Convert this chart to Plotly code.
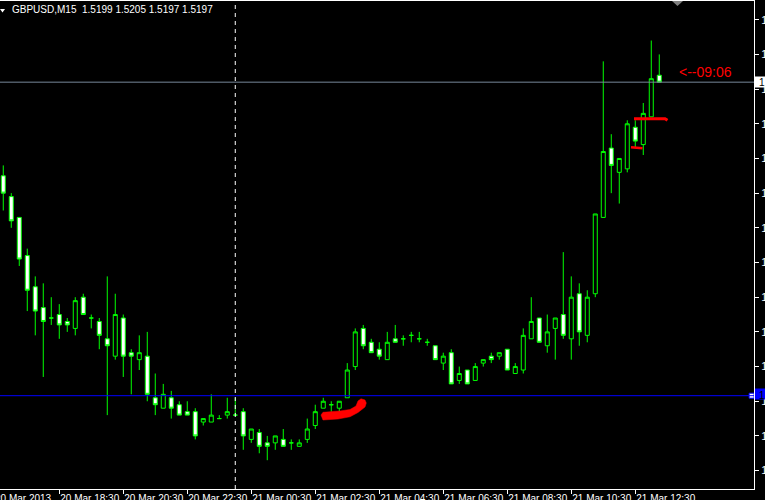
import plotly.graph_objects as go

SYMBOL = "GBPUSD,M15"

# 15-minute bars, 20 Mar 2013 16:45 -> 21 Mar 2013 13:15
OPEN = [1.5170, 1.5164, 1.5158, 1.5147, 1.5138, 1.5132, 1.5129, 1.5130, 1.5128, 1.5126,
        1.5135, 1.5129, 1.5128, 1.5123, 1.5118, 1.5129, 1.5119, 1.5117, 1.5118, 1.5106,
        1.5103, 1.5106, 1.5104, 1.5102, 1.5102, 1.5099, 1.5099, 1.5100, 1.5101, 1.5101,
        1.5102, 1.5094, 1.5096, 1.5093, 1.5093, 1.5094, 1.5093, 1.5092, 1.5094, 1.5098,
        1.5103, 1.5104, 1.5103, 1.5106, 1.5115, 1.5126, 1.5122, 1.5120, 1.5117, 1.5123,
        1.5123, 1.5124, 1.5123, 1.5122, 1.5121, 1.5116, 1.5119, 1.5111, 1.5114, 1.5111,
        1.5116, 1.5118, 1.5118, 1.5120, 1.5113, 1.5114, 1.5123, 1.5129, 1.5121, 1.5126,
        1.5130, 1.5123, 1.5136, 1.5124, 1.5136, 1.5158, 1.5178, 1.5171, 1.5172, 1.5184,
        1.5179, 1.5187, 1.5199]
HIGH = [1.5173, 1.5165, 1.5158, 1.5149, 1.5141, 1.5139, 1.5135, 1.5133, 1.5129, 1.5135,
        1.5136, 1.5130, 1.5129, 1.5141, 1.5136, 1.5130, 1.5120, 1.5124, 1.5125, 1.5113,
        1.5110, 1.5108, 1.5105, 1.5105, 1.5103, 1.5100, 1.5107, 1.5101, 1.5106, 1.5106,
        1.5103, 1.5097, 1.5097, 1.5095, 1.5095, 1.5097, 1.5094, 1.5094, 1.5100, 1.5104,
        1.5106, 1.5105, 1.5105, 1.5116, 1.5126, 1.5127, 1.5123, 1.5122, 1.5125, 1.5127,
        1.5124, 1.5125, 1.5125, 1.5123, 1.5121, 1.5119, 1.5120, 1.5115, 1.5114, 1.5116,
        1.5117, 1.5119, 1.5119, 1.5120, 1.5116, 1.5126, 1.5135, 1.5129, 1.5130, 1.5129,
        1.5148, 1.5141, 1.5139, 1.5137, 1.5159, 1.5203, 1.5182, 1.5175, 1.5186, 1.5186,
        1.5191, 1.5209, 1.5205]
LOW = [1.5160, 1.5155, 1.5144, 1.5131, 1.5124, 1.5112, 1.5127, 1.5123, 1.5125, 1.5124,
       1.5130, 1.5126, 1.5120, 1.5101, 1.5117, 1.5112, 1.5107, 1.5114, 1.5105, 1.5101,
       1.5103, 1.5100, 1.5101, 1.5101, 1.5094, 1.5098, 1.5099, 1.5100, 1.5100, 1.5101,
       1.5091, 1.5093, 1.5090, 1.5088, 1.5091, 1.5092, 1.5091, 1.5092, 1.5093, 1.5097,
       1.5103, 1.5102, 1.5102, 1.5106, 1.5114, 1.5120, 1.5119, 1.5117, 1.5117, 1.5122,
       1.5121, 1.5122, 1.5122, 1.5121, 1.5117, 1.5114, 1.5110, 1.5110, 1.5110, 1.5111,
       1.5115, 1.5116, 1.5117, 1.5114, 1.5113, 1.5113, 1.5123, 1.5122, 1.5119, 1.5117,
       1.5123, 1.5117, 1.5121, 1.5122, 1.5135, 1.5158, 1.5165, 1.5162, 1.5171, 1.5178,
       1.5176, 1.5187, 1.5197]
CLOSE = [1.5165, 1.5157, 1.5146, 1.5137, 1.5131, 1.5128, 1.5129, 1.5127, 1.5127, 1.5134,
         1.5130, 1.5129, 1.5124, 1.5121, 1.5130, 1.5118, 1.5118, 1.5119, 1.5107, 1.5104,
         1.5107, 1.5103, 1.5101, 1.5101, 1.5095, 1.5100, 1.5101, 1.5100, 1.5102, 1.5101,
         1.5095, 1.5097, 1.5092, 1.5092, 1.5095, 1.5092, 1.5093, 1.5093, 1.5097, 1.5102,
         1.5105, 1.5104, 1.5105, 1.5114, 1.5125, 1.5121, 1.5119, 1.5118, 1.5122, 1.5122,
         1.5123, 1.5124, 1.5123, 1.5122, 1.5117, 1.5118, 1.5110, 1.5113, 1.5110, 1.5115,
         1.5117, 1.5117, 1.5119, 1.5114, 1.5115, 1.5124, 1.5128, 1.5122, 1.5125, 1.5129,
         1.5124, 1.5135, 1.5125, 1.5135, 1.5159, 1.5177, 1.5173, 1.5175, 1.5185, 1.5180,
         1.5188, 1.5198, 1.5197]

TICK_BARS = [7, 15, 23, 31, 39, 47, 55, 63, 71, 79]
TICK_TEXT = ["20 Mar 18:30", "20 Mar 20:30", "20 Mar 22:30", "21 Mar 00:30", "21 Mar 02:30",
             "21 Mar 04:30", "21 Mar 06:30", "21 Mar 08:30", "21 Mar 10:30", "21 Mar 12:30"]
FIRST_LABEL = "20 Mar 2013"

PRICE_TICKS = [1.5085, 1.5095, 1.5105, 1.5115, 1.5125, 1.5135, 1.5145,
               1.5155, 1.5165, 1.5175, 1.5185, 1.5195, 1.5205, 1.5215]

DAY_BREAK_BAR = 29          # 21 Mar 00:00
HLINE_LEVEL = 1.51066       # user horizontal line
TIMER_TEXT = "<--09:06"

# view window (chart shifted to the left)
X_RANGE = [-0.41, 93.84]
Y_RANGE = [1.50797, 1.52204]

FONT = "Liberation Sans, Arial, sans-serif"
GREEN = "#00ff00"

# plot area in pixels
PLOT_W, PLOT_H, TOP = 754, 488, 1


def pxx(x):
    return x / PLOT_W


def pxy(y):
    return (TOP + PLOT_H - y) / PLOT_H


def path(points, close=True):
    s = "M " + " L ".join(f"{pxx(x):.5f},{pxy(y):.5f}" for x, y in points)
    return s + (" Z" if close else "")


bars = list(range(len(OPEN)))

fig = go.Figure()
fig.add_trace(go.Candlestick(
    x=bars, open=OPEN, high=HIGH, low=LOW, close=CLOSE,
    increasing=dict(line=dict(color=GREEN, width=1), fillcolor="#000000"),
    decreasing=dict(line=dict(color=GREEN, width=1), fillcolor="#ffffff"),
    whiskerwidth=0, hoverinfo="skip",
))

bid = CLOSE[-1]
shapes = [
    # period separator
    dict(type="line", xref="x", yref="paper", x0=DAY_BREAK_BAR, x1=DAY_BREAK_BAR, y0=0, y1=1,
         line=dict(color="white", width=1, dash="4px,4px")),
    # bid line
    dict(type="line", xref="paper", yref="y", x0=0, x1=1, y0=bid, y1=bid,
         line=dict(color="#778899", width=1)),
    # horizontal line
    dict(type="line", xref="paper", yref="y", x0=0, x1=1, y0=HLINE_LEVEL, y1=HLINE_LEVEL,
         line=dict(color="#0000ff", width=1)),
    # price label boxes on the scale
    dict(type="rect", xref="paper", yref="paper", x0=pxx(755), x1=pxx(775),
         y0=pxy(87.5), y1=pxy(76.5), fillcolor="white", line=dict(width=0)),
    dict(type="rect", xref="paper", yref="paper", x0=pxx(755), x1=pxx(775),
         y0=pxy(399.5), y1=pxy(388.5), fillcolor="#0000ff", line=dict(width=0)),
    # header triangle
    dict(type="path", xref="paper", yref="paper", path=path([(0, 9), (5, 9), (2.5, 12.5)]),
         fillcolor="white", line=dict(width=0)),
    # chart shift marker
    dict(type="path", xref="paper", yref="paper", path=path([(672, 1), (683, 1), (677.5, 6)]),
         fillcolor="#808080", line=dict(width=0)),
    # hand drawn marks
    dict(type="path", xref="paper", yref="paper",
         path=path([(321, 415), (323, 412.3), (340, 411), (350, 409.5), (356, 406), (358, 401),
                    (361, 398.8), (365, 400), (366.3, 403), (365, 407), (358, 412.5),
                    (350, 416.8), (338, 419), (323, 420)]),
         fillcolor="#ff0000", line=dict(color="#ff0000", width=0.5)),
    dict(type="path", xref="paper", yref="paper",
         path=path([(634, 118.7), (665, 118.7), (667.5, 120.3)], close=False),
         line=dict(color="#ff0000", width=3)),
    dict(type="path", xref="paper", yref="paper",
         path=path([(631, 147.3), (642.5, 148.3)], close=False),
         line=dict(color="#ff0000", width=2.5)),
]

annotations = [
    dict(xref="paper", yref="paper", x=pxx(10), y=pxy(9.5), xanchor="left", yanchor="middle",
         text=f"{SYMBOL}\u00a0\u00a0{OPEN[-1]:.4f} {HIGH[-1]:.4f} {LOW[-1]:.4f} {CLOSE[-1]:.4f}",
         showarrow=False, font=dict(family=FONT, size=10, color="white")),
    dict(xref="paper", yref="paper", x=pxx(676.5), y=pxy(72), xanchor="left", yanchor="middle",
         text=TIMER_TEXT, showarrow=False,
         font=dict(family=FONT, size=14, color="#ff0000")),
    dict(xref="paper", yref="y", x=pxx(757), y=bid, xanchor="left", yanchor="middle",
         text=f"{bid:.4f}", showarrow=False, font=dict(family=FONT, size=10, color="black")),
    dict(xref="paper", yref="y", x=pxx(757), y=HLINE_LEVEL, xanchor="left", yanchor="middle",
         text=f"{HLINE_LEVEL:.4f}", showarrow=False, font=dict(family=FONT, size=10, color="black")),
    dict(xref="x", yref="paper", x=X_RANGE[0], y=pxy(491), xanchor="left", yanchor="top",
         xshift=-7, text=FIRST_LABEL, showarrow=False,
         font=dict(family=FONT, size=10, color="white")),
]

fig.add_trace(go.Scatter(
    x=[X_RANGE[1] - 0.3], y=[HLINE_LEVEL], mode="markers", hoverinfo="skip",
    marker=dict(symbol="square", size=5, color="white", line=dict(color="#0000ff", width=1)),
))

fig.update_layout(
    width=765, height=500,
    margin=dict(l=0, r=11, t=1, b=11),
    paper_bgcolor="black", plot_bgcolor="black",
    showlegend=False, hovermode=False,
    boxgap=0.5, boxgroupgap=0,
    shapes=shapes, annotations=annotations,
    xaxis=dict(
        range=X_RANGE, rangeslider=dict(visible=False), showgrid=False, zeroline=False,
        tickvals=TICK_BARS, ticktext=TICK_TEXT, ticks="outside", ticklen=4,
        tickcolor="white", ticklabelposition="outside right", tickangle=0, automargin=False,
        tickfont=dict(family=FONT, size=10, color="white"),
        showline=True, linecolor="white", linewidth=1, mirror=True,
    ),
    yaxis=dict(
        range=Y_RANGE, side="right", showgrid=False, zeroline=False, automargin=False,
        tickvals=PRICE_TICKS, ticktext=[f"{p:.4f}" for p in PRICE_TICKS],
        ticks="outside", ticklen=4, tickcolor="white",
        tickfont=dict(family=FONT, size=11, color="white"),
        showline=True, linecolor="white", linewidth=1,
    ),
)

# page body has a default 8px margin; drop it so the chart sits at the window corner
fig.write_html("out.html", config={"displayModeBar": False},
               post_script="document.body.style.margin='0';")
